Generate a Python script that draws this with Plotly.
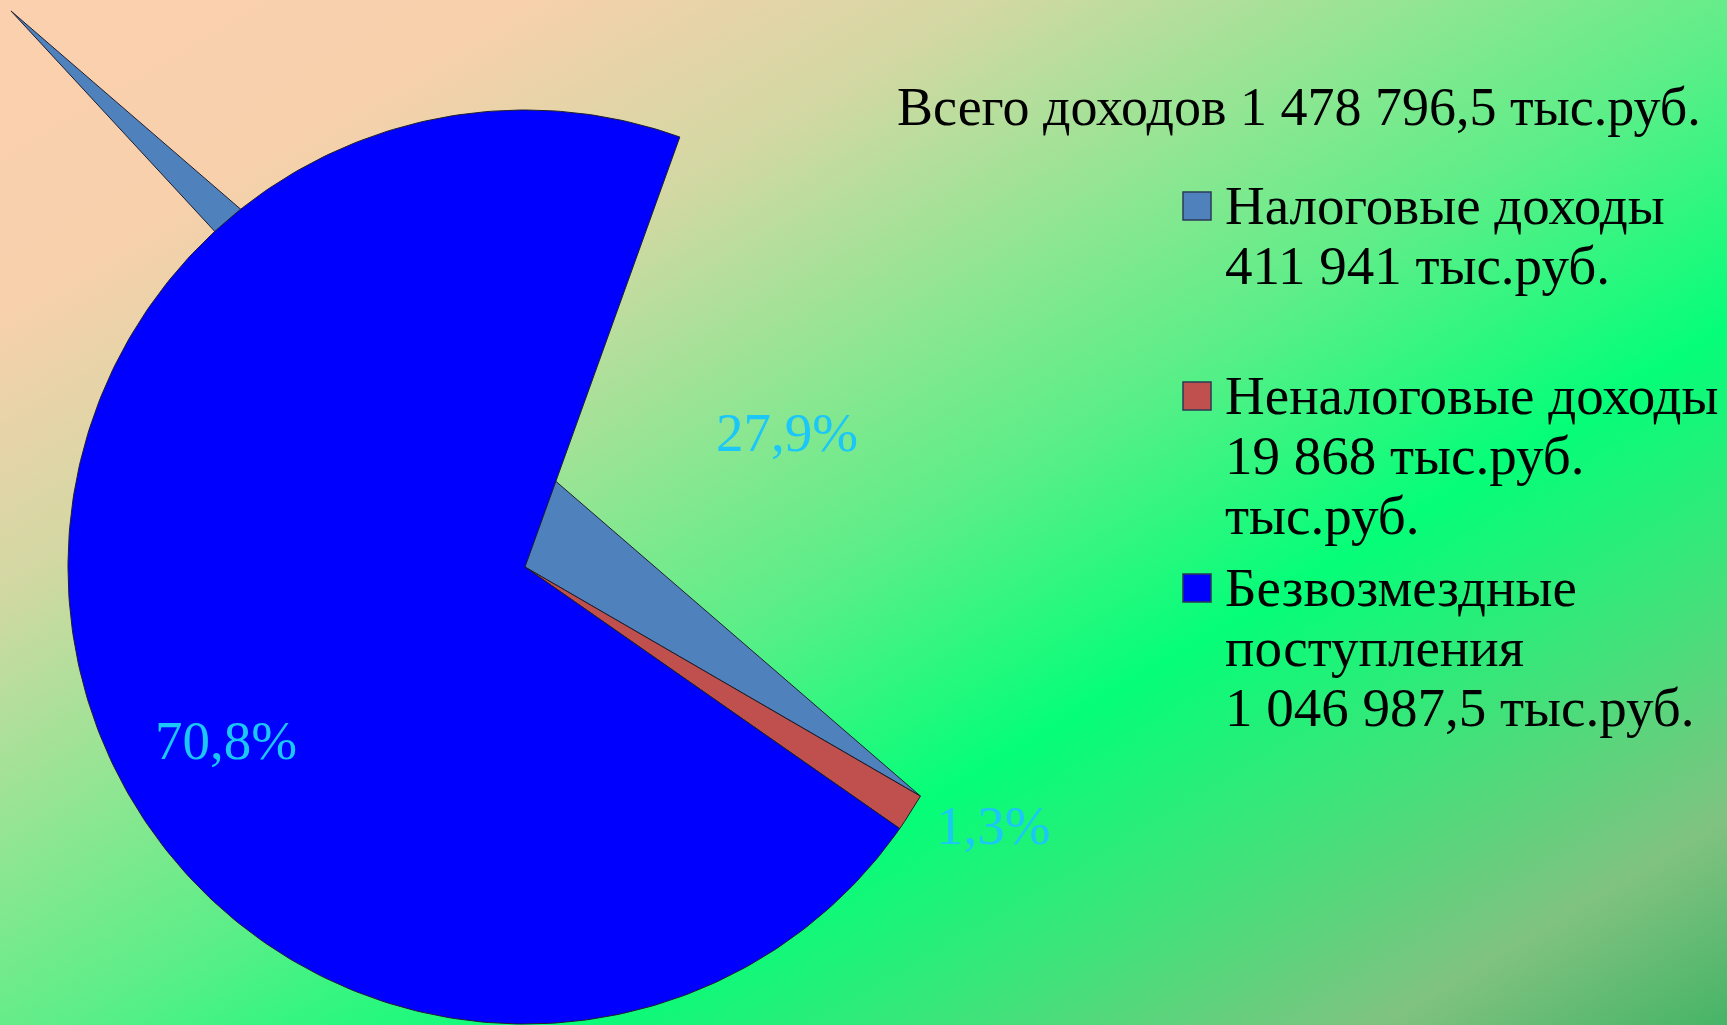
import base64
import numpy as np
import plotly.graph_objects as go

# ---------------- data ----------------
categories = ["Налоговые доходы", "Неналоговые доходы", "Безвозмездные поступления"]
values = [411941.0, 19868.0, 1046987.5]
legend_lines = [
    ["Налоговые доходы", "411 941 тыс.руб."],
    ["Неналоговые доходы", "19 868 тыс.руб.", "тыс.руб."],
    ["Безвозмездные", "поступления", "1 046 987,5 тыс.руб."],
]
total_label = "Всего доходов 1 478 796,5 тыс.руб."

# ---------------- style / layout ----------------
W, H = 1727, 1025
CX, CY, R = 525, 567, 457
FIRST_ANGLE = 19.8                      # degrees from 12 o'clock, clockwise
colors = ["#4F81BD", "#C0504D", "#0000FF"]
edge = "#1e1e2e"
label_color = "#1BC6F8"
FONT = "Liberation Serif, Times New Roman, serif"
# distorted rendering of the first slice (spike)
SPIKE_ANGLE, SPIKE_R = 132.75, 1.657
# label positions (angle deg math, radius fraction)
label_pos = [(27.1, 0.644), (-28.9, 1.172), (210.05, 0.756)]
legend_x_sq, legend_x_txt = 1197, 1223
legend_baselines = [222, 412, 604]
line_pitch = 60
FS = 55

# ---------------- background gradient ----------------
stops = [(0, "#FBD0AE"), (0.15, "#F8D0AC"), (0.29, "#D2D8A3"), (0.42, "#8EE692"),
         (0.52, "#5CEE88"), (0.66, "#05FE78"), (0.78, "#40E27A"), (0.9, "#80C280"),
         (1.0, "#46B466")]
stop_xml = "".join(f'<stop offset="{o}" stop-color="{c}"/>' for o, c in stops)
svg = (f'<svg xmlns="http://www.w3.org/2000/svg" width="{W}" height="{H}" '
       f'viewBox="0 0 {W} {H}" preserveAspectRatio="none">'
       f'<defs><linearGradient id="g" x1="0" y1="0" x2="1" y2="1">{stop_xml}</linearGradient></defs>'
       f'<rect x="0" y="0" width="{W}" height="{H}" fill="url(#g)"/></svg>')
bg_uri = "data:image/svg+xml;base64," + base64.b64encode(svg.encode()).decode()

# ---------------- geometry from values ----------------
total = sum(values)
spans = [v / total * 360.0 for v in values]
starts, ends = [], []
a = 90.0 - FIRST_ANGLE
for s in spans:
    starts.append(a)
    ends.append(a - s)
    a -= s


def px(angle, r):
    t = np.radians(angle)
    return CX + r * np.cos(t), CY - r * np.sin(t)


def sector(a0, a1, n=300):
    th = np.radians(np.linspace(a0, a1, n))
    xs = list(CX + R * np.cos(th))
    ys = list(CY - R * np.sin(th))
    return [CX] + xs + [CX], [CY] + ys + [CY]


fig = go.Figure()

# first slice (rendered as a distorted triangle with a spike)
fx, fy = px(ends[0], R)
sx, sy = px(SPIKE_ANGLE, SPIKE_R * R)
fig.add_trace(go.Scatter(x=[CX, fx, sx, CX], y=[CY, fy, sy, CY], mode="lines",
                         fill="toself", fillcolor=colors[0],
                         line=dict(color=edge, width=1), hoverinfo="skip",
                         showlegend=False))
# second slice
xs, ys = sector(starts[1], ends[1])
fig.add_trace(go.Scatter(x=xs, y=ys, mode="lines", fill="toself", fillcolor=colors[1],
                         line=dict(color=edge, width=1), hoverinfo="skip",
                         showlegend=False))
# third slice
xs, ys = sector(starts[2], ends[2])
fig.add_trace(go.Scatter(x=xs, y=ys, mode="lines", fill="toself", fillcolor=colors[2],
                         line=dict(color=edge, width=1), hoverinfo="skip",
                         showlegend=False))

annotations = []
# percent labels
for v, (ang, rf) in zip(values, label_pos):
    pct = f"{v / total * 100:.1f}".replace(".", ",") + "%"
    lx, ly = px(ang, rf * R)
    annotations.append(dict(x=lx, y=ly, text=pct, showarrow=False, xanchor="center",
                            yanchor="middle",
                            font=dict(family=FONT, size=FS, color=label_color)))

# title
annotations.append(dict(x=895, y=124 - 17, text=total_label, showarrow=False,
                        xanchor="left", yanchor="middle",
                        font=dict(family=FONT, size=FS - 1, color="black")))

# legend
sq_y = []
for i, lines in enumerate(legend_lines):
    b0 = legend_baselines[i]
    sq_y.append(b0 - 16)
    for j, ln in enumerate(lines):
        annotations.append(dict(x=legend_x_txt, y=b0 + j * line_pitch - 17, text=ln,
                                showarrow=False, xanchor="left", yanchor="middle",
                                font=dict(family=FONT, size=FS, color="black")))
fig.add_trace(go.Scatter(x=[legend_x_sq] * 3, y=sq_y, mode="markers",
                         marker=dict(symbol="square", size=28, color=colors,
                                     line=dict(color="#2a3a55", width=1.5)),
                         hoverinfo="skip", showlegend=False))

fig.update_layout(
    width=W, height=H,
    margin=dict(l=0, r=0, t=0, b=0),
    paper_bgcolor="rgba(0,0,0,0)", plot_bgcolor="rgba(0,0,0,0)",
    xaxis=dict(range=[0, W], visible=False, fixedrange=True),
    yaxis=dict(range=[H, 0], visible=False, fixedrange=True),
    images=[dict(source=bg_uri, xref="paper", yref="paper", x=0, y=1, sizex=1, sizey=1,
                 xanchor="left", yanchor="top", sizing="stretch", layer="below")],
    annotations=annotations,
    showlegend=False,
)

fig.write_html("out.html", config={"displayModeBar": False},
               post_script="document.body.style.margin='0px';document.body.style.overflow='hidden';")
